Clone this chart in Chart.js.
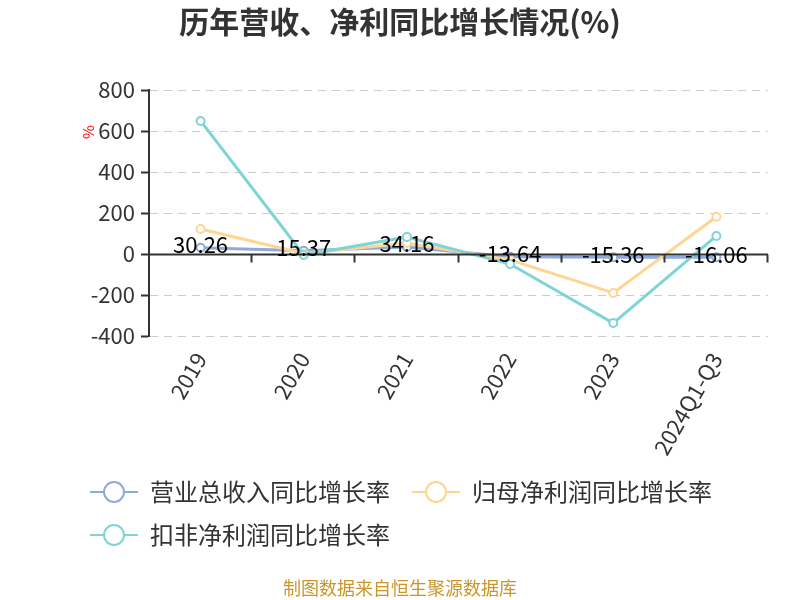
<!DOCTYPE html>
<html>
<head>
<meta charset="utf-8">
<script src="https://cdn.jsdelivr.net/npm/chart.js@4/dist/chart.umd.min.js"></script>
<style>
  html, body { margin: 0; padding: 0; background: #fff; }
  #wrap { width: 800px; height: 600px; position: relative; }
</style>
</head>
<body>
<div id="wrap"><canvas id="chart" width="800" height="600"></canvas></div>
<script>
// categories and series (%)
const years = ['2019', '2020', '2021', '2022', '2023', '2024Q1-Q3'];
const revenueGrowth = [30.26, 15.37, 34.16, -13.64, -15.36, -16.06];
const parentProfitGrowth = [122, 3, 54, -29, -190, 182];
const deductedProfitGrowth = [649, -5, 83, -49, -337, 88];
const yTicks = [-400, -200, 0, 200, 400, 600, 800];

const seriesNames = ['营业总收入同比增长率', '归母净利润同比增长率', '扣非净利润同比增长率'];
const COLORS = {
  blue: '#8eaadc',
  orange: '#ffd591',
  teal: '#7fd4d5',
  text: '#333333',
  grid: '#cccccc',
  axis: '#333333',
  source: '#c9962b',
};
const FONT = '"Noto Sans CJK SC", "Noto Sans", sans-serif';

// title, axis name, zero line, legend and source text
const decorPlugin = {
  id: 'decor',
  afterDraw(chart) {
    const { ctx } = chart;
    const y = chart.scales.y;
    ctx.save();

    // title
    ctx.fillStyle = COLORS.text;
    ctx.font = 'bold 30px ' + FONT;
    ctx.textAlign = 'center';
    ctx.textBaseline = 'middle';
    ctx.fillText('历年营收、净利同比增长情况(%)', 400, 22);

    // y axis name
    ctx.save();
    ctx.translate(88, 132);
    ctx.rotate(-Math.PI / 2);
    ctx.fillStyle = '#ff0000';
    ctx.font = '15px ' + FONT;
    ctx.fillText('%', 0, 0);
    ctx.restore();

    // x axis line on zero with tick marks between categories
    const y0 = Math.round(y.getPixelForValue(0)) + 0.5;
    ctx.strokeStyle = COLORS.axis;
    ctx.lineWidth = 2;
    ctx.beginPath();
    ctx.moveTo(chart.chartArea.left, y0);
    ctx.lineTo(chart.chartArea.right, y0);
    const step = (chart.chartArea.right - chart.chartArea.left) / years.length;
    for (let i = 1; i <= years.length; i++) {
      const tx = Math.round(chart.chartArea.left + step * i) - 0.5;
      ctx.moveTo(tx, y0);
      ctx.lineTo(tx, y0 + 8);
    }
    ctx.stroke();

    // data labels for the revenue series
    const meta = chart.getDatasetMeta(0);
    ctx.fillStyle = '#000';
    ctx.font = '22px ' + FONT;
    ctx.textAlign = 'center';
    ctx.textBaseline = 'middle';
    meta.data.forEach((pt, i) => {
      ctx.fillText(revenueGrowth[i].toFixed(2), pt.x, pt.y - 3);
    });

    // legend
    const items = [
      { name: seriesNames[0], color: COLORS.blue, x: 90, y: 492 },
      { name: seriesNames[1], color: COLORS.orange, x: 412, y: 492 },
      { name: seriesNames[2], color: COLORS.teal, x: 90, y: 535 },
    ];
    items.forEach((it) => {
      ctx.strokeStyle = it.color;
      ctx.lineWidth = 2;
      ctx.beginPath();
      ctx.moveTo(it.x, it.y);
      ctx.lineTo(it.x + 48, it.y);
      ctx.stroke();
      ctx.beginPath();
      ctx.arc(it.x + 24, it.y, 10, 0, Math.PI * 2);
      ctx.fillStyle = '#fff';
      ctx.fill();
      ctx.stroke();
      ctx.fillStyle = COLORS.text;
      ctx.font = '24px ' + FONT;
      ctx.textAlign = 'left';
      ctx.fillText(it.name, it.x + 60, it.y);
    });

    // source
    ctx.fillStyle = COLORS.source;
    ctx.font = '18px ' + FONT;
    ctx.textAlign = 'center';
    ctx.fillText('制图数据来自恒生聚源数据库', 400, 588);

    ctx.restore();
  },
};

function lineDataset(label, data, color, order) {
  return {
    label,
    data,
    borderColor: color,
    backgroundColor: color,
    borderWidth: 3,
    pointRadius: 4,
    pointBorderWidth: 2,
    pointBackgroundColor: '#fff',
    pointBorderColor: color,
    tension: 0,
    order,
  };
}

new Chart(document.getElementById('chart'), {
  type: 'line',
  data: {
    labels: years,
    datasets: [
      lineDataset(seriesNames[0], revenueGrowth, COLORS.blue, 3),
      lineDataset(seriesNames[1], parentProfitGrowth, COLORS.orange, 2),
      lineDataset(seriesNames[2], deductedProfitGrowth, COLORS.teal, 1),
    ],
  },
  options: {
    responsive: false,
    animation: false,
    layout: { padding: { top: 90, left: 0, right: 32, bottom: 124 } },
    scales: {
      x: {
        offset: true,
        grid: { display: false },
        border: { display: false },
        ticks: {
          color: COLORS.text,
          font: { family: FONT, size: 22 },
          minRotation: 60,
          maxRotation: 60,
          padding: 4,
        },
        afterFit(scale) { scale.height = 140; },
      },
      y: {
        min: -400,
        max: 800,
        afterBuildTicks(scale) { scale.ticks = yTicks.map((v) => ({ value: v })); },
        grid: {
          color: COLORS.grid,
          lineWidth: 1,
          tickColor: COLORS.axis,
          tickLength: 8,
          tickWidth: 2,
        },
        border: { display: true, color: COLORS.axis, width: 2, dash: [8, 6] },
        ticks: {
          color: COLORS.text,
          font: { family: FONT, size: 22 },
          padding: 6,
        },
        afterFit(scale) { scale.width = 149; },
      },
    },
    plugins: {
      legend: { display: false },
      title: { display: false },
      tooltip: { enabled: false },
    },
  },
  plugins: [decorPlugin],
});
</script>
</body>
</html>
